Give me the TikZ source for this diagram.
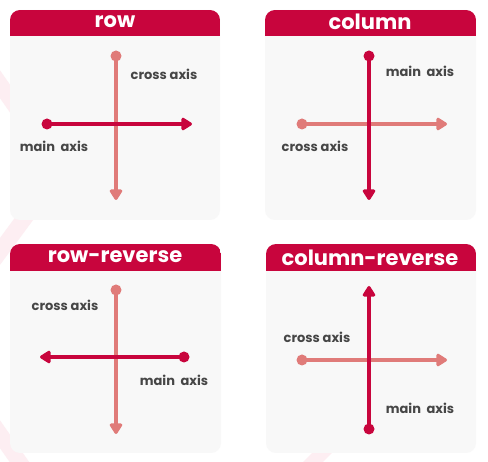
\documentclass[tikz,border=0pt]{standalone}
\usepackage{fontspec}
\setmainfont{Poppins}
\usetikzlibrary{arrows.meta}
\definecolor{crimson}{HTML}{C8053D}
\definecolor{salmon}{HTML}{E07B79}
\definecolor{cardbg}{HTML}{F8F8F8}
\definecolor{labelgray}{HTML}{464646}
\definecolor{stripe}{HTML}{FDEEF2}
\tikzset{
  card/.style={fill=cardbg, rounded corners=10pt},
  titletext/.style={text=white, font=\fontsize{21}{24}\selectfont\bfseries, inner sep=0pt},
  axislabel/.style={text=labelgray, font=\fontsize{13}{15}\selectfont\bfseries, inner sep=0pt},
  mainline/.style={draw=crimson, line width=4pt, -{Triangle[length=12pt,width=14pt,round]}},
  crossline/.style={draw=salmon, line width=4pt, -{Triangle[length=12pt,width=14pt,round]}},
  maindot/.style={fill=crimson},
  crossdot/.style={fill=salmon},
}
\begin{document}
\begin{tikzpicture}[x=1pt,y=-1pt]
\useasboundingbox (0,0) rectangle (488,462);
\fill[white] (0,0) rectangle (488,462);

% faint decorative chevron behind the cards
\draw[stripe, line width=16pt] (-10,70) -- (60,170) -- (-10,265);
\draw[stripe, line width=16pt] (-10,420) -- (25,470);
\draw[stripe, line width=14pt] (300,475) -- (335,440);

% ---------- card frames with headers ----------
\foreach \xa/\ya/\xb/\yb/\yh in {10/10/220/220/36, 265/10/476/220/36,
                                  10/244/221/453/271, 266/244/476/453/271}{
  \fill[card] (\xa,\ya) rectangle (\xb,\yb);
  \begin{scope}
    \clip[rounded corners=10pt] (\xa,\ya) rectangle (\xb,\yb);
    \fill[crimson] (\xa,\ya) rectangle (\xb,\yh);
  \end{scope}
}

% ---------- row ----------
\node[titletext] (t1) at (115,22) {row};
\coordinate (r-cs) at (116,56);  \coordinate (r-ce) at (116,200);
\coordinate (r-ms) at (47,124);  \coordinate (r-me) at (192,124);
\draw[crossline] (r-cs) -- (r-ce);
\fill[crossdot] (r-cs) circle (5.5);
\draw[mainline] (r-ms) -- (r-me);
\fill[maindot] (r-ms) circle (5.5);
\node[axislabel] (r-cl) at (164,74) {cross axis};
\node[axislabel] (r-ml) at (54,146) {main\ \ axis};

% ---------- column ----------
\node[titletext] (t2) at (370,22) {column};
\coordinate (c-cs) at (302,124); \coordinate (c-ce) at (447,124);
\coordinate (c-ms) at (369,56);  \coordinate (c-me) at (369,200);
\draw[crossline] (c-cs) -- (c-ce);
\fill[crossdot] (c-cs) circle (5.5);
\draw[mainline] (c-ms) -- (c-me);
\fill[maindot] (c-ms) circle (5.5);
\node[axislabel] (c-ml) at (420,71) {main\ \ axis};
\node[axislabel] (c-cl) at (315,146) {cross axis};

% ---------- row-reverse ----------
\node[titletext] (t3) at (115,257) {row-reverse};
\coordinate (rr-cs) at (116,290); \coordinate (rr-ce) at (116,434);
\coordinate (rr-ms) at (184,357); \coordinate (rr-me) at (40,357);
\draw[crossline] (rr-cs) -- (rr-ce);
\fill[crossdot] (rr-cs) circle (5.5);
\draw[mainline] (rr-ms) -- (rr-me);
\fill[maindot] (rr-ms) circle (5.5);
\node[axislabel] (rr-cl) at (65,305) {cross axis};
\node[axislabel] (rr-ml) at (174,380) {main\ \ axis};

% ---------- column-reverse ----------
\node[titletext] (t4) at (370,258) {column-reverse};
\coordinate (cr-cs) at (302,360); \coordinate (cr-ce) at (447,360);
\coordinate (cr-ms) at (369,429); \coordinate (cr-me) at (369,286);
\draw[crossline] (cr-cs) -- (cr-ce);
\fill[crossdot] (cr-cs) circle (5.5);
\draw[mainline] (cr-ms) -- (cr-me);
\fill[maindot] (cr-ms) circle (5.5);
\node[axislabel] (cr-cl) at (317,337) {cross axis};
\node[axislabel] (cr-ml) at (420,408) {main\ \ axis};
\end{tikzpicture}
\end{document}
